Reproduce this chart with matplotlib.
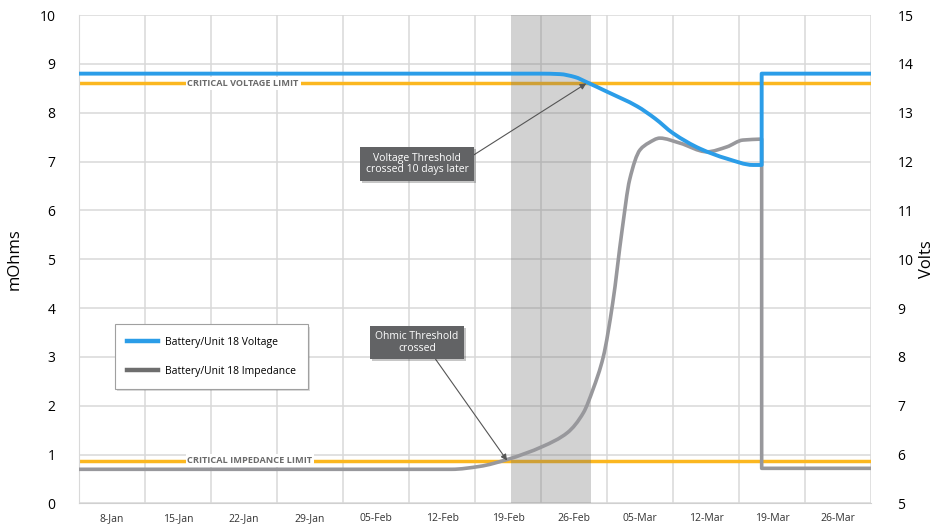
import matplotlib.pyplot as plt
import matplotlib.patheffects as pe
from matplotlib.lines import Line2D
from matplotlib.path import Path
from matplotlib.patches import PathPatch

plt.rcParams['font.family'] = ['Open Sans', 'DejaVu Sans']

# week labels (day of year), x axis runs one half-week past each end
week_days = [8, 15, 22, 29, 36, 43, 50, 57, 64, 71, 78, 85]
week_labels = ['8-Jan', '15-Jan', '22-Jan', '29-Jan', '05-Feb', '12-Feb',
               '19-Feb', '26-Feb', '05-Mar', '12-Mar', '19-Mar', '26-Mar']

# impedance, mOhms
imp_day = [4.5, 44.0, 47.0, 49.9, 53.7, 56.3, 58.0, 59.0, 60.1, 61.1, 62.1,
           62.9, 64.0, 64.9, 66.1, 68.2, 71.1, 73.2, 74.9, 76.9, 76.9, 88.5]
imp_val = [0.70, 0.70, 0.76, 0.90, 1.17, 1.45, 1.86, 2.33, 3.0, 4.1, 5.6,
           6.63, 7.24, 7.38, 7.48, 7.38, 7.2, 7.3, 7.44, 7.46, 0.72, 0.72]

# voltage, V
volt_day = [4.5, 53.4, 55.5, 57.1, 58.4, 60.5, 63.7, 65.6, 67.5, 70.4,
            73.2, 76.0, 76.9, 76.9, 88.5]
volt_val = [13.8, 13.8, 13.79, 13.73, 13.62, 13.43, 13.13, 12.88, 12.58,
            12.26, 12.06, 11.93, 11.93, 13.8, 13.8]

volt_limit = 13.6
imp_limit = 0.88
window = (50.3, 58.8)

blue = '#2b9de8'
gold = '#fbb720'
gray = '#98989c'


def smooth_path(xs, ys):
    """Smoothed line through the points (monotone cubic Bezier per run),
    straight vertical jumps where two points share an x."""
    runs, cur = [], [(xs[0], ys[0])]
    for x, y in zip(xs[1:], ys[1:]):
        if x == cur[-1][0]:
            runs.append(cur)
            cur = [(x, y)]
        else:
            cur.append((x, y))
    runs.append(cur)

    verts, codes = [], []
    for r in runs:
        px = [p[0] for p in r]
        py = [p[1] for p in r]
        n = len(r)
        h = [px[i + 1] - px[i] for i in range(n - 1)]
        d = [(py[i + 1] - py[i]) / h[i] for i in range(n - 1)]
        m = [0.0] * n
        if n > 1:
            m[0], m[-1] = d[0], d[-1]
        for i in range(1, n - 1):
            if d[i - 1] * d[i] <= 0:
                m[i] = 0.0
            else:
                w1 = 2 * h[i] + h[i - 1]
                w2 = h[i] + 2 * h[i - 1]
                m[i] = (w1 + w2) / (w1 / d[i - 1] + w2 / d[i])
        if n > 1 and (d[0] == 0 or len(d) > 1 and d[0] * d[1] <= 0):
            m[0] = 0.0
        verts.append(r[0])
        codes.append(Path.MOVETO if not verts[:-1] else Path.LINETO)
        for i in range(n - 1):
            verts += [(px[i] + h[i] / 3, py[i] + m[i] * h[i] / 3),
                      (px[i + 1] - h[i] / 3, py[i + 1] - m[i + 1] * h[i] / 3),
                      (px[i + 1], py[i + 1])]
            codes += [Path.CURVE4] * 3
    return Path(verts, codes)


fig = plt.figure(figsize=(9.36, 5.27), dpi=100)
ax = fig.add_axes([0.0844, 0.0446, 0.8462, 0.9269])
ax2 = ax.twinx()

x0, x1 = 4.5, 88.5
ax.set_xlim(x0, x1)
ax.set_ylim(0, 10)
ax2.set_ylim(5, 15)

ax.set_xticks([x0 + 7 * i for i in range(13)], minor=True)
ax.set_xticks(week_days)
ax.set_xticklabels(week_labels, fontsize=7.5, color='#333333')
ax.set_yticks(range(11))
ax2.set_yticks(range(5, 16))
ax.tick_params(axis='y', length=0, labelsize=10, pad=17)
ax.tick_params(axis='x', which='both', length=0, labelsize=7.5, pad=7)
ax2.tick_params(axis='y', length=0, labelsize=10, pad=19)
ax.grid(True, which='minor', axis='x', color='#d9d9d9', lw=1.1)
ax.grid(True, which='major', axis='y', color='#d9d9d9', lw=1.1)
ax.grid(False, which='major', axis='x')
for a in (ax, ax2):
    for s in a.spines.values():
        s.set_visible(False)
ax.spines['bottom'].set_visible(True)
ax.spines['bottom'].set_color('#d0d0d0')
ax.spines['left'].set_visible(True)
ax.spines['left'].set_color('#d9d9d9')
ax.set_axisbelow(True)

ax.set_ylabel('mOhms', fontsize=12)
ax.yaxis.set_label_coords(-0.071, 0.5)
ax2.set_ylabel('Volts', fontsize=12, rotation=90)
ax2.yaxis.set_label_coords(1.061, 0.5)

# limit lines
ax.plot([x0, x1], [imp_limit, imp_limit], color=gold, lw=2.5, zorder=2)
ax.plot([x0, x1], [volt_limit, volt_limit], color=gold, lw=2.5, zorder=2,
        transform=ax2.transData)
lim_style = dict(fontsize=6.6, fontweight='bold', color='#6b6b6b', ha='left',
                 va='center', zorder=3,
                 bbox=dict(boxstyle='square,pad=0.2', fc='white', ec='none'))
ax.text(16.0, imp_limit, 'CRITICAL IMPEDANCE LIMIT', **lim_style)
ax.text(16.0, volt_limit, 'CRITICAL VOLTAGE LIMIT', transform=ax2.transData,
        **lim_style)

# shaded window
ax.axvspan(*window, color='#6c6c6c', alpha=0.3, lw=0, zorder=4)

ax.add_patch(PathPatch(smooth_path(imp_day, imp_val), fill=False,
                       ec=gray, lw=2.6, joinstyle='round', zorder=5))
ax2.add_patch(PathPatch(smooth_path(volt_day, volt_val), fill=False,
                        ec=blue, lw=2.8, joinstyle='round', zorder=5))

# callouts
box = dict(boxstyle='square,pad=0.5', fc='#626365', ec='none')
arrow = dict(arrowstyle='-|>', color='#555555', lw=0.8, mutation_scale=9,
             shrinkA=0, shrinkB=0)
t1 = ax2.annotate('Voltage Threshold\ncrossed 10 days later',
                  xy=(58.3, volt_limit), xytext=(40.35, 11.95),
                  fontsize=7.5, color='white', ha='center', va='center',
                  linespacing=1.1, bbox=box,
                  arrowprops=dict(relpos=(1.0, 0.75), **arrow), zorder=8)
t2 = ax2.annotate('Ohmic Threshold\ncrossed',
                  xy=(49.9, imp_limit + 5), xytext=(40.35, 8.29),
                  fontsize=7.5, color='white', ha='center', va='center',
                  linespacing=1.1, bbox=box,
                  arrowprops=dict(relpos=(0.68, 0.0), **arrow), zorder=8)
for t in (t1, t2):
    t.get_bbox_patch().set_path_effects(
        [pe.SimplePatchShadow(offset=(1.5, -1.5), alpha=0.25), pe.Normal()])

handles = [Line2D([], [], color=blue, lw=3.2),
           Line2D([], [], color='#6e6e6e', lw=3.2)]
leg = ax2.legend(handles, ['Battery/Unit 18 Voltage',
                           'Battery/Unit 18 Impedance'],
                 loc='lower left', bbox_to_anchor=(0.045, 0.234),
                 fontsize=7.5, frameon=True, fancybox=False, framealpha=1,
                 handlelength=3.0, handletextpad=0.6, labelspacing=1.7,
                 borderpad=1.2, borderaxespad=0)
leg.get_frame().set_edgecolor('#a0a0a0')
leg.get_frame().set_linewidth(0.8)
leg.get_frame().set_path_effects(
    [pe.SimplePatchShadow(offset=(1.5, -1.5), alpha=0.2), pe.Normal()])

fig.savefig('out.png', dpi=100)
